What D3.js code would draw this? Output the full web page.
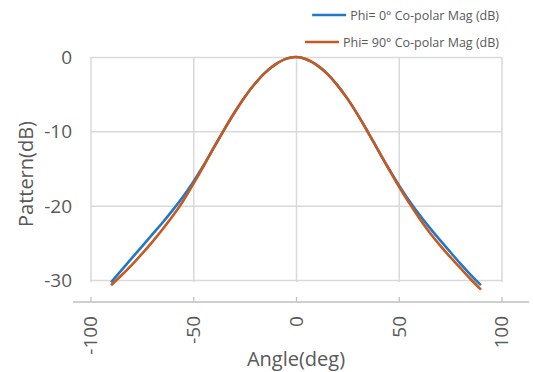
<!DOCTYPE html>
<html>
<head>
<meta charset="utf-8">
<script src="https://cdn.jsdelivr.net/npm/d3@7"></script>
<style>
  html, body { margin: 0; padding: 0; background: #fff; }
  svg { display: block; }
  text { font-family: "Open Sans", "Noto Sans", sans-serif; fill: #595959; }
</style>
</head>
<body>
<svg id="chart" width="533" height="372"></svg>
<script>
const angles = [-90,-85,-80,-75,-70,-65,-60,-55,-50,-45,-40,-35,-30,-25,-20,-15,-10,-5,0,5,10,15,20,25,30,35,40,45,50,55,60,65,70,75,80,85,90];
const phi0 =  [-30.3,-28.7,-27.1,-25.5,-23.9,-22.3,-20.6,-18.8,-16.8,-14.6,-12.2,-9.8,-7.5,-5.4,-3.6,-2.1,-1.0,-0.25,0,-0.3,-1.05,-2.2,-3.75,-5.6,-7.75,-10.1,-12.55,-14.95,-17.2,-19.3,-21.2,-22.95,-24.6,-26.2,-27.8,-29.3,-30.7];
const phi90 = [-30.7,-29.4,-28.0,-26.5,-24.9,-23.2,-21.4,-19.4,-17.1,-14.7,-12.2,-9.8,-7.5,-5.4,-3.6,-2.1,-1.0,-0.25,0,-0.3,-1.05,-2.2,-3.75,-5.6,-7.75,-10.1,-12.55,-15.0,-17.4,-19.6,-21.7,-23.6,-25.3,-26.9,-28.4,-29.9,-31.3];
const seriesNames = ["Phi= 0° Co-polar Mag (dB)", "Phi= 90° Co-polar Mag (dB)"];
const seriesColors = ["#1F78C8", "#C8591E"];
const xTicks = [-100,-50,0,50,100];
const yTicks = [-30,-20,-10,0];

const svg = d3.select("#chart");
const x = d3.scaleLinear().domain([-100,100]).range([90.5,501.5]);
const y = d3.scaleLinear().domain([-30,0]).range([280,57]);

// horizontal gridlines
svg.append("g")
  .attr("transform", `translate(${x(-100)},0)`)
  .call(d3.axisLeft(y).tickValues(yTicks).tickSize(-(x(100)-x(-100))).tickFormat(""))
  .call(g => g.select(".domain").remove())
  .call(g => g.selectAll("line").attr("stroke","#d9d9d9").attr("stroke-width",1.5));

// vertical gridlines
svg.append("g")
  .attr("transform", `translate(0,${y(-30)+2})`)
  .call(d3.axisBottom(x).tickValues(xTicks).tickSize(-(y(-30)+2-y(0))).tickFormat(""))
  .call(g => g.select(".domain").remove())
  .call(g => g.selectAll("line").attr("stroke","#d9d9d9").attr("stroke-width",1.5));

// bottom axis line with upward ticks
const axisY = 302;
svg.append("line").attr("x1",73).attr("x2",529).attr("y1",axisY).attr("y2",axisY)
  .attr("stroke","#bfbfbf").attr("stroke-width",1.5);
svg.append("g")
  .attr("transform", `translate(0,${axisY})`)
  .call(d3.axisTop(x).tickValues(xTicks).tickSize(5).tickFormat(""))
  .call(g => g.select(".domain").remove())
  .call(g => g.selectAll("line").attr("stroke","#bfbfbf").attr("stroke-width",1.2));

// x tick labels (rotated)
svg.append("g").selectAll("text").data(xTicks).join("text")
  .attr("transform", d => `translate(${x(d)},316) rotate(-90)`)
  .attr("text-anchor","end")
  .attr("dy","0.36em")
  .style("font-size","19px")
  .text(d => d);

// y tick labels
svg.append("g").selectAll("text").data(yTicks).join("text")
  .attr("x",72).attr("y", d => y(d))
  .attr("text-anchor","end")
  .attr("dy","0.36em")
  .style("font-size","19px")
  .text(d => d);

// axis titles
svg.append("text")
  .attr("transform","translate(33,174) rotate(-90)")
  .attr("text-anchor","middle")
  .style("font-size","20px")
  .text("Pattern(dB)");
svg.append("text")
  .attr("x",296).attr("y",366)
  .attr("text-anchor","middle")
  .style("font-size","20px")
  .text("Angle(deg)");

// lines
const line = d3.line().x(d => x(d[0])).y(d => y(d[1])).curve(d3.curveCatmullRom);
const data = [phi0, phi90];
data.forEach((vals, i) => {
  svg.append("path")
    .datum(angles.map((a, j) => [a, vals[j]]))
    .attr("fill","none")
    .attr("stroke", seriesColors[i])
    .attr("stroke-width", 2.6)
    .attr("d", line);
});

// legend
const legendY = [15, 42];
seriesNames.forEach((name, i) => {
  const t = svg.append("text")
    .attr("x", 499).attr("y", legendY[i])
    .attr("text-anchor","end")
    .attr("dy","0.36em")
    .style("font-size","12.5px")
    .text(name);
  const bb = t.node().getBBox();
  svg.append("line")
    .attr("x1", bb.x - 38).attr("x2", bb.x - 4)
    .attr("y1", legendY[i]).attr("y2", legendY[i])
    .attr("stroke", seriesColors[i]).attr("stroke-width", 2.5);
});
</script>
</body>
</html>
